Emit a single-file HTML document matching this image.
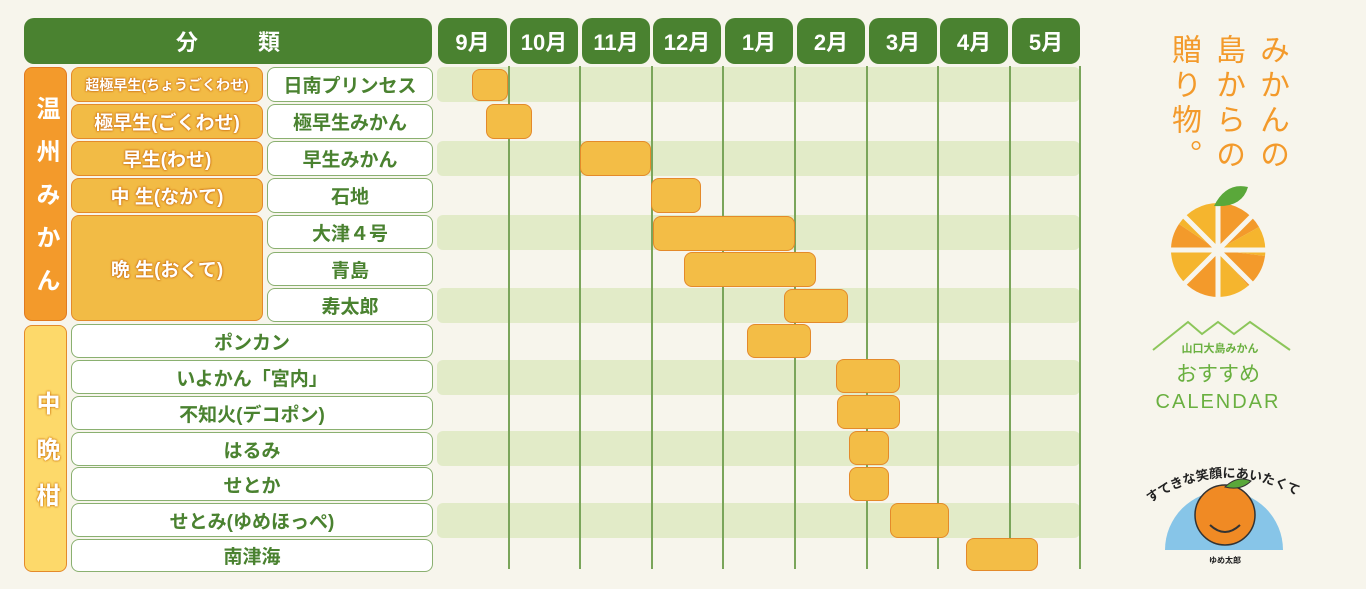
<!DOCTYPE html>
<html><head><meta charset="utf-8"><style>
body{margin:0;width:1366px;height:589px;background:#f7f5ec;position:relative;overflow:hidden;font-family:"Liberation Sans","Noto Sans CJK JP",sans-serif;font-weight:bold}
.a{position:absolute;box-sizing:border-box;display:flex;align-items:center;justify-content:center}
.hd{background:#4a8230;color:#fff;border-radius:10px;font-size:22px}
.cat{background:#f2bb45;border:1.5px solid #e48a2a;border-radius:8px;color:#fff;font-size:19px;text-shadow:0 0 2px #c96a10,0 0 2px #c96a10}
.nm{background:#fff;border:1.5px solid #8ab070;border-radius:8px;color:#4a8230;font-size:19px}
.st{background:#e2ebc8;border-radius:6px}
.vl{position:absolute;width:1.5px;background:#7aa55a;top:66px;height:503px}
.bar{position:absolute;background:#f3bd46;border:1.5px solid #e48a2a;border-radius:8px;box-sizing:border-box}
.vt{position:absolute;writing-mode:vertical-rl;color:#f39a2b;font-size:30px;letter-spacing:5px;font-weight:normal}
</style></head><body>
<div class="a hd" style="left:24px;top:18px;width:408px;height:46px;letter-spacing:60px;padding-left:60px">分類</div>
<div class="a hd" style="left:438px;top:18px;width:69px;height:46px">9月</div>
<div class="a hd" style="left:510px;top:18px;width:68px;height:46px">10月</div>
<div class="a hd" style="left:582px;top:18px;width:68px;height:46px">11月</div>
<div class="a hd" style="left:653px;top:18px;width:68px;height:46px">12月</div>
<div class="a hd" style="left:725px;top:18px;width:68px;height:46px">1月</div>
<div class="a hd" style="left:797px;top:18px;width:68px;height:46px">2月</div>
<div class="a hd" style="left:869px;top:18px;width:68px;height:46px">3月</div>
<div class="a hd" style="left:940px;top:18px;width:68px;height:46px">4月</div>
<div class="a hd" style="left:1012px;top:18px;width:68px;height:46px">5月</div>

<div class="a st" style="left:437px;top:67px;width:643px;height:35px"></div>
<div class="a st" style="left:437px;top:141px;width:643px;height:35px"></div>
<div class="a st" style="left:437px;top:215px;width:643px;height:35px"></div>
<div class="a st" style="left:437px;top:288px;width:643px;height:35px"></div>
<div class="a st" style="left:437px;top:360px;width:643px;height:35px"></div>
<div class="a st" style="left:437px;top:431px;width:643px;height:35px"></div>
<div class="a st" style="left:437px;top:503px;width:643px;height:35px"></div>

<div class="vl" style="left:508px"></div><div class="vl" style="left:579px"></div><div class="vl" style="left:651px"></div><div class="vl" style="left:722px"></div><div class="vl" style="left:794px"></div><div class="vl" style="left:866px"></div><div class="vl" style="left:937px"></div><div class="vl" style="left:1009px"></div><div class="vl" style="left:1079px"></div>

<div class="a" style="left:24px;top:67px;width:43px;height:254px;background:#f39a2b;border:1.5px solid #e07a20;border-radius:8px;color:#fff;font-size:24px;writing-mode:vertical-rl;letter-spacing:19px;padding-top:18px">温州みかん</div>
<div class="a" style="left:24px;top:325px;width:43px;height:247px;background:#fdd96a;border:1.5px solid #e48a2a;border-radius:8px;color:#fff;font-size:24px;writing-mode:vertical-rl;letter-spacing:22px;padding-top:22px;text-shadow:0 0 2px #d07a10,0 0 2px #d07a10">中晩柑</div>

<div class="a cat" style="left:71px;top:67px;width:192px;height:35px;font-size:14px">超極早生(ちょうごくわせ)</div>
<div class="a cat" style="left:71px;top:104px;width:192px;height:35px">極早生(ごくわせ)</div>
<div class="a cat" style="left:71px;top:141px;width:192px;height:35px">早生(わせ)</div>
<div class="a cat" style="left:71px;top:178px;width:192px;height:35px">中 生(なかて)</div>
<div class="a cat" style="left:71px;top:215px;width:192px;height:106px">晩 生(おくて)</div>

<div class="a nm" style="left:267px;top:67px;width:166px;height:35px">日南プリンセス</div>
<div class="a nm" style="left:267px;top:104px;width:166px;height:35px">極早生みかん</div>
<div class="a nm" style="left:267px;top:141px;width:166px;height:35px">早生みかん</div>
<div class="a nm" style="left:267px;top:178px;width:166px;height:35px">石地</div>
<div class="a nm" style="left:267px;top:215px;width:166px;height:34px">大津４号</div>
<div class="a nm" style="left:267px;top:252px;width:166px;height:34px">青島</div>
<div class="a nm" style="left:267px;top:288px;width:166px;height:34px">寿太郎</div>
<div class="a nm" style="left:71px;top:324px;width:362px;height:34px">ポンカン</div>
<div class="a nm" style="left:71px;top:360px;width:362px;height:34px">いよかん「宮内」</div>
<div class="a nm" style="left:71px;top:396px;width:362px;height:34px">不知火(デコポン)</div>
<div class="a nm" style="left:71px;top:432px;width:362px;height:34px">はるみ</div>
<div class="a nm" style="left:71px;top:467px;width:362px;height:34px">せとか</div>
<div class="a nm" style="left:71px;top:503px;width:362px;height:34px">せとみ(ゆめほっぺ)</div>
<div class="a nm" style="left:71px;top:539px;width:362px;height:33px">南津海</div>

<div class="bar" style="left:472px;top:69px;width:36px;height:32px"></div>
<div class="bar" style="left:486px;top:104px;width:46px;height:35px"></div>
<div class="bar" style="left:580px;top:141px;width:71px;height:35px"></div>
<div class="bar" style="left:651px;top:178px;width:50px;height:35px"></div>
<div class="bar" style="left:653px;top:216px;width:142px;height:35px"></div>
<div class="bar" style="left:684px;top:252px;width:132px;height:35px"></div>
<div class="bar" style="left:784px;top:289px;width:64px;height:34px"></div>
<div class="bar" style="left:747px;top:324px;width:64px;height:34px"></div>
<div class="bar" style="left:836px;top:359px;width:64px;height:34px"></div>
<div class="bar" style="left:837px;top:395px;width:63px;height:34px"></div>
<div class="bar" style="left:849px;top:431px;width:40px;height:34px"></div>
<div class="bar" style="left:849px;top:467px;width:40px;height:34px"></div>
<div class="bar" style="left:890px;top:503px;width:59px;height:35px"></div>
<div class="bar" style="left:966px;top:538px;width:72px;height:33px"></div>

<div class="vt" style="left:1249px;top:34px">みかんの</div>
<div class="vt" style="left:1205px;top:34px">島からの</div>
<div class="vt" style="left:1161px;top:34px">贈り物。</div>

<svg style="position:absolute;left:1140px;top:185px" width="170" height="404" viewBox="0 0 170 404">
<g transform="translate(78,65)">
<path d="M0 0 L0 -47 A47 47 0 0 1 41 -23Z" fill="#f39a2b"/>
<path d="M0 0 L41 -23 A47 47 0 0 1 47 6Z" fill="#f5b52e"/>
<path d="M0 0 L47 6 A47 47 0 0 1 30 36Z" fill="#f39a2b"/>
<path d="M0 0 L30 36 A47 47 0 0 1 0 47Z" fill="#f5b52e"/>
<path d="M0 0 L0 47 A47 47 0 0 1 -33 33Z" fill="#f39a2b"/>
<path d="M0 0 L-33 33 A47 47 0 0 1 -47 2Z" fill="#f5b52e"/>
<path d="M0 0 L-47 2 A47 47 0 0 1 -39 -26Z" fill="#f39a2b"/>
<path d="M0 0 L-39 -26 A47 47 0 0 1 0 -47Z" fill="#f5b52e"/>
<g stroke="#f7f5ec" stroke-width="5"><line x1="0" y1="0" x2="0" y2="-49"/><line x1="0" y1="0" x2="0" y2="49"/><line x1="0" y1="0" x2="49" y2="0"/><line x1="0" y1="0" x2="-49" y2="0"/><line x1="0" y1="0" x2="35" y2="-35"/><line x1="0" y1="0" x2="-35" y2="35"/><line x1="0" y1="0" x2="35" y2="35"/><line x1="0" y1="0" x2="-35" y2="-35"/></g>
<path d="M-4 -44 Q8 -68 30 -63 Q24 -42 -4 -44Z" fill="#5aa83a"/>
</g>
<polyline points="13,165 48,137 62,149 78,137 94,149 110,137 150,165" fill="none" stroke="#8cc65a" stroke-width="2"/>
<text x="80" y="167" text-anchor="middle" font-size="11" fill="#6ab040" font-family="Noto Sans CJK JP">山口大島みかん</text>
<text x="78" y="196" text-anchor="middle" font-size="21" fill="#6ab040" font-family="Noto Sans CJK JP" font-weight="normal">おすすめ</text>
<text x="78" y="223" text-anchor="middle" font-size="20" fill="#6ab040" font-family="Liberation Sans" font-weight="normal" letter-spacing="2">CALENDAR</text>
<path d="M25 365 A59 59 0 0 1 143 365Z" fill="#87c5e8"/>
<circle cx="85" cy="330" r="30" fill="#f08a24" stroke="#333" stroke-width="1.5"/>
<path d="M85 302 Q97 290 111 296 Q101 306 85 302Z" fill="#5aa83a" stroke="#333"/>
<path d="M70 340 Q85 354 100 340" fill="none" stroke="#333" stroke-width="2"/>
<path d="M10 318 Q80 270 160 312" id="arc" fill="none"/>
<text font-size="13" fill="#222" font-family="Noto Sans CJK JP"><textPath href="#arc">すてきな笑顔にあいたくて</textPath></text>
<text x="85" y="378" text-anchor="middle" font-size="8" fill="#222" font-family="Noto Sans CJK JP">ゆめ太郎</text>
</svg>
</body></html>
